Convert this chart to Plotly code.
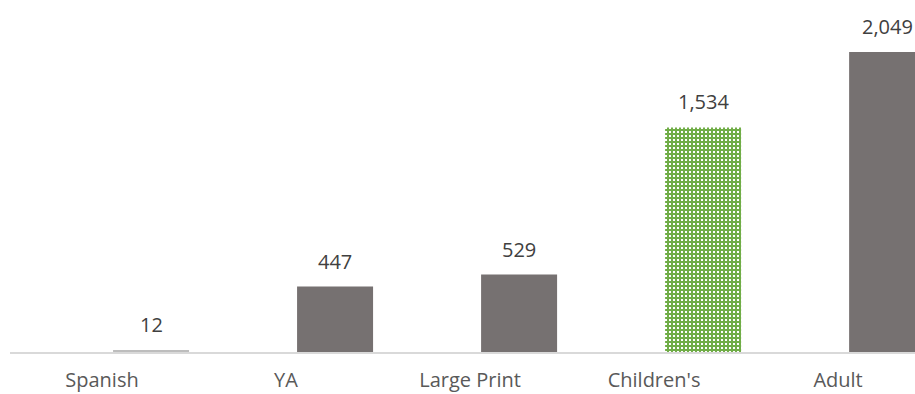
import plotly.graph_objects as go

categories = ["Spanish", "YA", "Large Print", "Children's", "Adult"]
values = [12, 447, 529, 1534, 2049]
value_labels = ["12", "447", "529", "1,534", "2,049"]

GRAY = "#767171"
LIGHT = "#BDBDBD"
GREEN = "#70AD47"
positions = list(range(len(categories)))
bar_offset = 0.06
bar_width = 0.413

colors = [LIGHT, GRAY, GRAY, GREEN, GRAY]
shapes = ["", "", "", "+", ""]

fig = go.Figure()
fig.add_trace(go.Bar(
    x=positions, y=values,
    offset=bar_offset, width=bar_width,
    marker=dict(
        color=colors,
        line=dict(width=0),
        pattern=dict(shape=shapes, fgcolor=GREEN, bgcolor="white", size=4, solidity=0.75,
                     fillmode="replace"),
    ),
    hoverinfo="skip",
))

for p, v, t in zip(positions, values, value_labels):
    fig.add_annotation(x=p + bar_offset + bar_width / 2, y=v, text=t, showarrow=False,
                       xref="x", yref="y", yanchor="bottom", yshift=10,
                       font=dict(family="Open Sans", size=20, color="#404040"))

fig.update_layout(
    width=915, height=394,
    margin=dict(l=10, r=0, t=0, b=42),
    plot_bgcolor="white", paper_bgcolor="white",
    showlegend=False,
    xaxis=dict(range=[-0.5, 4.418], tickvals=positions, ticktext=categories,
               showline=True, linecolor="#D9D9D9", linewidth=1.5, showgrid=False,
               zeroline=False, ticks="", automargin=False,
               tickfont=dict(family="Open Sans", size=20, color="#595959"),
               ticklabelstandoff=9),
    yaxis=dict(range=[0, 2404], visible=False, showgrid=False, zeroline=False),
)

fig.write_html("out.html")
